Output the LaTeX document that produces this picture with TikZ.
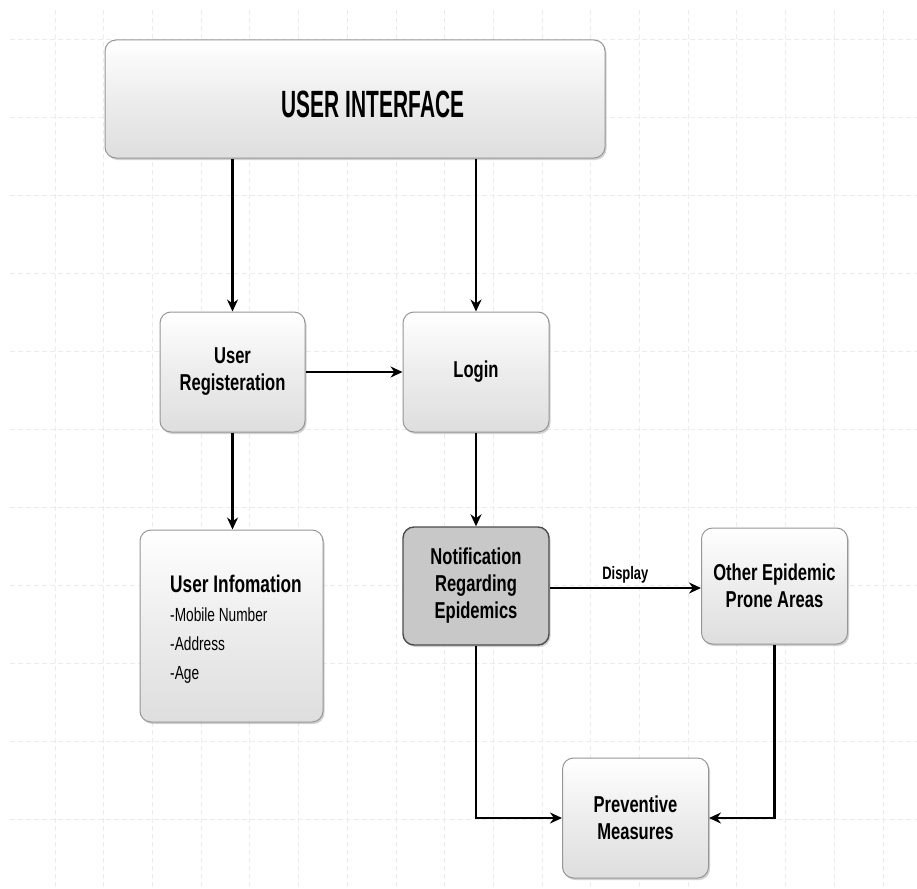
\documentclass[tikz,border=0pt]{standalone}
\usepackage{fontspec}
\setmainfont{Liberation Sans}[FakeStretch=0.72]
\newfontfamily\uifont{Liberation Sans}[FakeStretch=0.55]
\usetikzlibrary{arrows.meta,shadows}
\definecolor{gridc}{RGB}{236,236,236}
\definecolor{boxedge}{RGB}{150,150,150}
\definecolor{boxlow}{RGB}{222,222,222}
\definecolor{darkfill}{RGB}{200,200,200}
\tikzset{
  box/.style={draw=boxedge, line width=1pt, rounded corners=11pt,
    top color=white, bottom color=boxlow, middle color=boxlow!55!white,
    drop shadow={shadow xshift=1.5pt, shadow yshift=-2pt, opacity=0.35},
    align=center, inner sep=0pt, font=\fontsize{23}{27}\selectfont\bfseries},
  darkbox/.style={box, draw=gray!60!black, line width=1.4pt, top color=darkfill, bottom color=darkfill, middle color=darkfill},
  conn/.style={line width=2.4pt, -{Stealth[length=12pt,width=11pt]}},
  gridline/.style={gridc, line width=0.8pt, dash pattern=on 5pt off 3pt}
}
\begin{document}
\begin{tikzpicture}[x=1pt,y=-1pt]
\useasboundingbox[fill=white] (0,0) rectangle (917,888);
% grid
\foreach \k in {0,...,17} {\draw[gridline] (55+48.7*\k,10) -- (55+48.7*\k,888);}
\foreach \k in {0,...,10} {\draw[gridline] (10,39+78*\k) -- (917,39+78*\k);}
% nodes
\node[box, minimum width=500pt, minimum height=118pt] (ui) at (355,99) {};
\node[font=\uifont\fontsize{38}{40}\selectfont\bfseries] (uit) at (373,104) {USER INTERFACE};
\node[box, minimum width=145pt, minimum height=120pt] (reg) at (232.5,372) {User\\Registeration};
\node[box, minimum width=146pt, minimum height=120pt] (login) at (476,372) {Login};
\node[box, minimum width=183pt, minimum height=192pt] (info) at (231.5,626) {};
\node[align=left, inner sep=0pt, font=\fontsize{19}{29}\selectfont] (infot) at (236,629)
  {{\fontsize{24}{29}\selectfont\bfseries User Infomation}\\-Mobile Number\\-Address\\-Age};
\node[darkbox, minimum width=146pt, minimum height=118pt] (notif) at (476,586) {Notification\\Regarding\\Epidemics};
\node[box, minimum width=146pt, minimum height=116pt] (other) at (774.5,586) {Other Epidemic\\Prone Areas};
\node[box, minimum width=146pt, minimum height=120pt] (prev) at (635.5,818) {Preventive\\Measures};
% connectors
\draw[conn] (ui.south -| reg) -- (reg.north);
\draw[conn] (ui.south -| login) -- (login.north);
\draw[conn] (reg.east) -- (login.west);
\draw[conn] (reg.south) -- (info.north -| reg);
\draw[conn] (login.south) -- (notif.north);
\draw[conn] (notif.east |- 0,588) -- node[above, inner sep=4pt, font=\fontsize{18}{20}\selectfont\bfseries] {Display} (other.west |- 0,588);
\draw[conn] (notif.south) |- (prev.west);
\draw[conn] (other.south) |- (prev.east);
\end{tikzpicture}
\end{document}
